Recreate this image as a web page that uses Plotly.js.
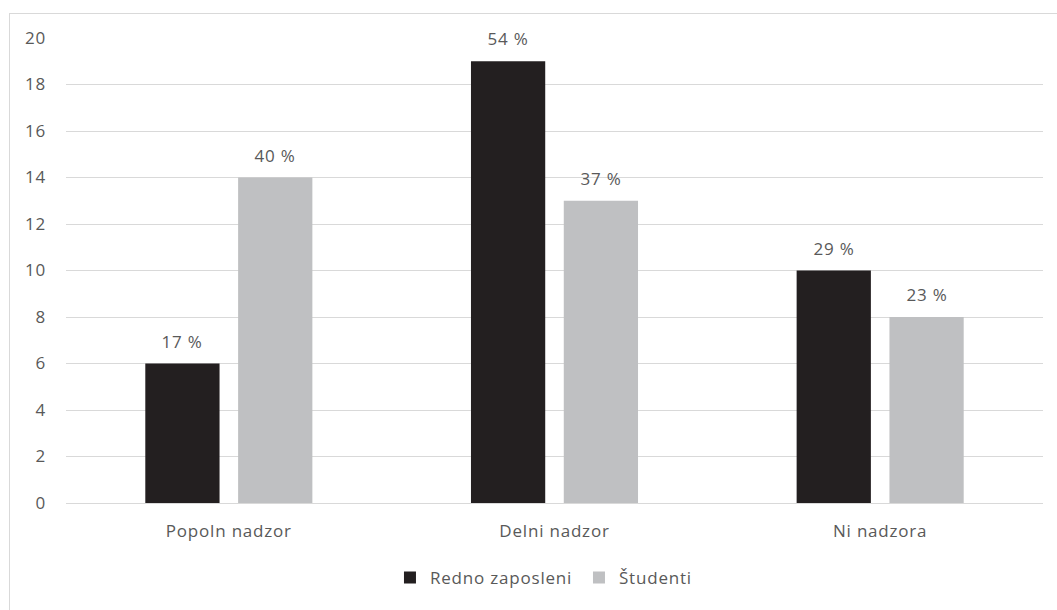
<!DOCTYPE html>
<html>
<head>
<meta charset="utf-8">
<script src="https://cdn.plot.ly/plotly-3.0.1.min.js"></script>
<style>
  html, body { margin: 0; padding: 0; background: #fff; overflow: hidden; }
  #frame { position: absolute; left: 9px; top: 13px; width: 1200px; height: 800px; border: 1px solid #d9d9d9; }
  #chart { position: absolute; left: 0; top: 0; width: 1057px; height: 610px; }
  #chart svg text { letter-spacing: 0.8px; }
</style>
</head>
<body>
<div id="frame"></div>
<div id="chart"></div>
<script>
// Supervision levels and counts per group
const categories = ['Popoln nadzor', 'Delni nadzor', 'Ni nadzora'];
const seriesNames = ['Redno zaposleni', 'Študenti'];
const employed = [6, 19, 10];
const students = [14, 13, 8];
const employedPct = ['17 %', '54 %', '29 %'];
const studentsPct = ['40 %', '37 %', '23 %'];
const yTicks = [0, 2, 4, 6, 8, 10, 12, 14, 16, 18, 20];

const textColor = '#595959';
const font = { family: 'Open Sans, Liberation Sans, sans-serif', size: 17, color: textColor };

const traces = [
  { type: 'bar', name: seriesNames[0], x: categories, y: employed,
    marker: { color: '#231f20' }, hoverinfo: 'skip' },
  { type: 'bar', name: seriesNames[1], x: categories, y: students,
    marker: { color: '#bfc0c2' }, hoverinfo: 'skip' }
];

// Percentage labels sit above each bar of the group
const offset = 0.143;
const annotations = [];
categories.forEach((c, i) => {
  annotations.push({ x: i - offset, y: employed[i], xref: 'x', yref: 'y', text: employedPct[i],
    showarrow: false, yanchor: 'bottom', yshift: 9, font: font });
  annotations.push({ x: i + offset, y: students[i], xref: 'x', yref: 'y', text: studentsPct[i],
    showarrow: false, yanchor: 'bottom', yshift: 9, font: font });
});

const layout = {
  width: 1057, height: 610,
  margin: { l: 66, r: 14, t: 38, b: 107 },
  paper_bgcolor: 'rgba(0,0,0,0)',
  plot_bgcolor: 'rgba(0,0,0,0)',
  font: font,
  barmode: 'group',
  bargap: 0.43,
  bargroupgap: 0.2,
  showlegend: true,
  legend: { orientation: 'h', x: 0.3316, xanchor: 'left', y: -0.161, yanchor: 'middle',
    font: font, itemwidth: 30, entrywidth: 144, entrywidthmode: 'pixels', traceorder: 'normal' },
  xaxis: { type: 'category', showgrid: false, zeroline: false, showline: false,
    ticks: '', ticklabelstandoff: 16, tickfont: font, fixedrange: true },
  yaxis: { range: [0, 20], tickvals: yTicks, showgrid: true, gridcolor: '#d9d9d9', gridwidth: 1,
    zeroline: true, zerolinecolor: '#d9d9d9', zerolinewidth: 1, showline: false,
    ticks: '', ticklabelstandoff: 19, tickfont: font, fixedrange: true },
  annotations: annotations
};

Plotly.newPlot('chart', traces, layout, { displayModeBar: false, staticPlot: true });
</script>
</body>
</html>
